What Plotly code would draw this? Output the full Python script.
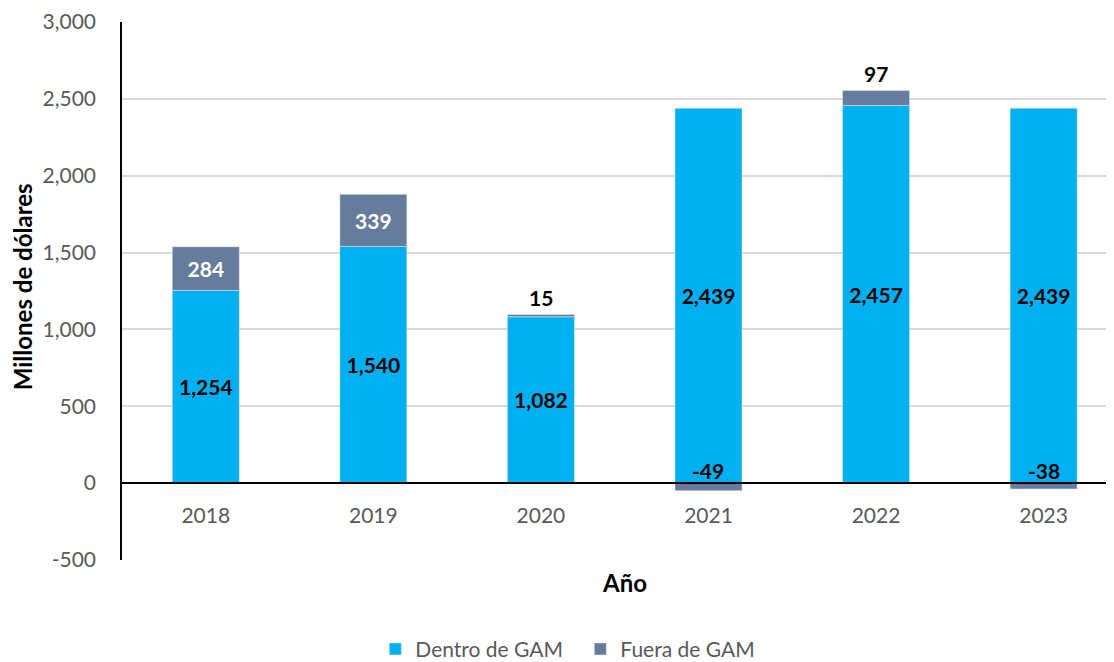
import plotly.graph_objects as go

years = ["2018", "2019", "2020", "2021", "2022", "2023"]
dentro = [1254, 1540, 1082, 2439, 2457, 2439]
fuera = [284, 339, 15, -49, 97, -38]
y_ticks = [-500, 0, 500, 1000, 1500, 2000, 2500, 3000]

C_DENTRO = "#00B0F0"
C_FUERA = "#667C9C"
FONT = "Lato"

fig = go.Figure()
fig.add_trace(go.Bar(
    x=years, y=dentro, name="Dentro de GAM", marker_color=C_DENTRO, width=0.4,
    text=[f"{v:,}" for v in dentro], texttemplate="<b>%{text}</b>",
    textposition="inside", insidetextanchor="middle", constraintext="none",
    textangle=0, textfont=dict(family=FONT, size=21, color="black"),
))
fig.add_trace(go.Bar(
    x=years, y=fuera, name="Fuera de GAM", marker_color=C_FUERA, width=0.4,
    text=[f"{v:,}" if v > 100 else "" for v in fuera], texttemplate="<b>%{text}</b>",
    textposition="inside", insidetextanchor="middle", constraintext="none",
    textangle=0, textfont=dict(family=FONT, size=21, color="white"),
))

# labels for small segments
for i, (d, f) in enumerate(zip(dentro, fuera)):
    if f > 100:
        continue
    ypos = d + f if f > 0 else 0
    fig.add_annotation(x=i, y=ypos, xref="x", yref="y", text=f"<b>{f:,}</b>",
                       showarrow=False, yanchor="bottom",
                       yshift=3 if f > 0 else -2,
                       font=dict(family=FONT, size=21, color="black"))

fig.add_annotation(text="<b>Millones de dólares</b>", textangle=-90, showarrow=False,
                   xref="paper", yref="paper", x=-0.1008, y=0.507,
                   xanchor="center", yanchor="middle",
                   font=dict(family=FONT, size=24, color="black"))
fig.add_annotation(text="<b>Año</b>", showarrow=False,
                   xref="paper", yref="paper", x=0.507, y=-0.041,
                   xanchor="center", yanchor="middle",
                   font=dict(family=FONT, size=24, color="black"))

# the page body adds an 8px offset; size the figure to compensate
fig.update_layout(
    width=1106, height=654,
    margin=dict(l=114, r=0, t=14, b=102, autoexpand=False),
    barmode="relative",
    plot_bgcolor="white", paper_bgcolor="white",
    font=dict(family=FONT, size=21, color="#595959"),
    showlegend=True,
    legend=dict(orientation="h", xref="paper", yref="paper",
                x=0.462, y=-0.166, xanchor="center", yanchor="middle",
                entrywidth=160,
                font=dict(family=FONT, size=21, color="#595959")),
    xaxis=dict(
        type="category", range=[-0.5, 5.42], automargin=False,
        anchor="free", position=500 / 3500,
        showline=True, linecolor="black", linewidth=1.5,
        showgrid=False, ticks="", ticklabelstandoff=14,
        tickfont=dict(family=FONT, size=21, color="#595959"),
    ),
    yaxis=dict(
        range=[-500, 3000], automargin=False,
        tickvals=y_ticks, ticktext=[f"{v:,}" for v in y_ticks],
        showgrid=True, gridcolor="#D9D9D9", gridwidth=1.5,
        zeroline=False,
        showline=True, linecolor="black", linewidth=1.5,
        ticks="", ticklabelstandoff=20,
        tickfont=dict(family=FONT, size=21, color="#595959"),
    ),
)

fig.write_html("out.html")
